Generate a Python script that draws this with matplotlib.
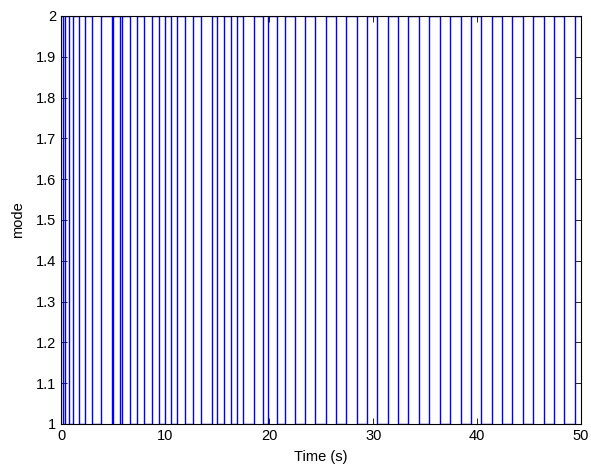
import matplotlib
matplotlib.use("Agg")
import matplotlib.pyplot as plt
import numpy as np

plt.rcParams['font.family'] = ['Liberation Sans', 'DejaVu Sans']

# switching instants (s)
switch_times = [0.13, 0.32, 0.74, 1.12, 1.66, 2.24, 2.95, 3.82, 4.84, 4.97,
                5.64, 5.80, 6.57, 7.24, 7.91, 8.68, 9.36, 9.93, 10.55, 11.15,
                11.92, 12.66, 13.46, 14.45, 15.00, 15.64, 16.31, 16.86, 17.50,
                18.49, 19.36, 19.90, 20.70, 21.50, 22.43, 23.43, 24.42, 25.45,
                26.44, 27.43, 28.43, 29.42, 30.41, 31.41, 32.40, 33.39, 34.42,
                35.41, 36.41, 37.40, 38.43, 39.42, 40.42, 41.41, 42.40, 43.40,
                44.42, 45.41, 46.41, 47.40, 48.39, 49.45]
start_mode = 2
t_end = 50.0

xticks = [0, 10, 20, 30, 40, 50]
yticks = [1, 1.1, 1.2, 1.3, 1.4, 1.5, 1.6, 1.7, 1.8, 1.9, 2]
ytick_labels = ['1', '1.1', '1.2', '1.3', '1.4', '1.5', '1.6', '1.7', '1.8', '1.9', '2']

# build step signal
t = [0.0]
m = [start_mode]
mode = start_mode
for s in switch_times:
    t.append(s); m.append(mode)
    mode = 3 - mode
    t.append(s); m.append(mode)
t.append(t_end); m.append(mode)

fig = plt.figure(figsize=(5.91, 4.70), dpi=100)
ax = fig.add_axes([0.104, 0.098, 0.879, 0.868])
ax.plot(t, m, color='#0000ff', linewidth=1.0, clip_on=True, zorder=3)
ax.set_xlim(0, 50)
ax.set_ylim(1, 2)
ax.set_xticks(xticks)
ax.set_yticks(yticks)
ax.set_yticklabels(ytick_labels)
ax.tick_params(direction='in', top=True, right=True, length=4, width=0.6,
               labelsize=10.5, colors='black', pad=4)
for sp in ax.spines.values():
    sp.set_linewidth(0.8)
    sp.set_zorder(5)
ax.set_xlabel('Time (s)', fontsize=10.5, labelpad=5)
ax.set_ylabel('mode', fontsize=10.5, labelpad=8)

fig.savefig('out.png', dpi=100)
